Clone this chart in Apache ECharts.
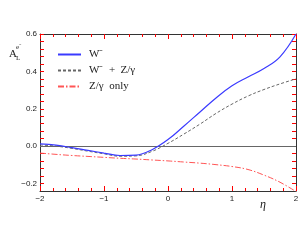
<!DOCTYPE html>
<html><head><meta charset="utf-8">
<script src="https://cdn.jsdelivr.net/npm/echarts@6/dist/echarts.min.js"></script>
<style>html,body{margin:0;padding:0;background:#fff}#c{width:305px;height:240px}</style>
</head><body><div id="c"></div>
<script>
const eta = [-2,-1.75,-1.5,-1.25,-1,-0.75,-0.5,-0.25,0,0.25,0.5,0.75,1,1.25,1.5,1.75,2];
const wMinus  = [0.012,0.005,-0.008,-0.023,-0.037,-0.05,-0.048,-0.019,0.035,0.108,0.183,0.258,0.323,0.37,0.415,0.478,0.6];
const wMinusZ = [0.006,0.0,-0.012,-0.027,-0.041,-0.054,-0.052,-0.028,0.015,0.065,0.118,0.175,0.225,0.268,0.303,0.333,0.36];
const zOnly   = [-0.037,-0.044,-0.05,-0.055,-0.06,-0.065,-0.069,-0.074,-0.079,-0.085,-0.091,-0.099,-0.109,-0.125,-0.155,-0.193,-0.243];
const yLabels = [-0.2,0,0.2,0.4,0.6];
const yTicks = [-0.2,-0.16,-0.12,-0.08,-0.04,0,0.04,0.08,0.12,0.16,0.2,0.24,0.28,0.32,0.36,0.4,0.44,0.48,0.52,0.56,0.6];
const names = ['W\u207B','W\u207B  +  Z/\u03B3','Z/\u03B3  only'];

const pair = (xs, ys) => xs.map((x,i)=>[x,ys[i]]);
const axCol = '#333';
const tkCol = 'red';
const lblStyle = {fontFamily:'Liberation Sans', fontSize:8, color:'#222'};
function xAx(pos, labels){
  return {type:'value', position:pos, min:-2, max:2, interval:1,
    axisLine:{show:true, onZero:false, lineStyle:{color:axCol, width:1}},
    axisTick:{show:true, inside:true, length:5, lineStyle:{color:tkCol, width:1}},
    minorTick:{show:true, splitNumber:5, length:3, lineStyle:{color:tkCol, width:1}},
    axisLabel:{show:labels, margin:4, ...lblStyle, formatter:v=>v<0?'\u2212'+Math.abs(v):String(v)},
    splitLine:{show:false}, minorSplitLine:{show:false}};
}
function yAx(pos, labels){
  return {type:'value', position:pos, min:-0.24, max:0.6,
    axisLine:{show:true, onZero:false, lineStyle:{color:axCol, width:1}},
    axisTick:{show:true, inside:true, length:4, customValues:yTicks, lineStyle:{color:tkCol, width:1}},
    axisLabel:{show:labels, margin:3, customValues:yLabels, ...lblStyle,
      formatter:v=>(v<0?'\u2212':'')+Math.abs(v).toFixed(1)},
    splitLine:{show:false}};
}
const chart = echarts.init(document.getElementById('c'), null, {renderer:'canvas'});
chart.setOption({
  animation:false,
  grid:{left:40, right:9, top:34, bottom:49},
  xAxis:[xAx('bottom', true), xAx('top', false)],
  yAxis:[yAx('left', true), yAx('right', false)],
  legend:{orient:'vertical', left:52, top:44, itemWidth:23, itemHeight:10, itemGap:5,
    itemStyle:{color:'transparent', borderWidth:0, opacity:0},
    textStyle:{fontFamily:'Liberation Serif', fontSize:11, color:'#222', padding:[0,0,0,3]},
    data:names},
  graphic:[
    {type:'text', left:9, top:49, style:{text:'A', font:'11px "Liberation Serif"', fill:'#222'}},
    {type:'text', left:16, top:44, style:{text:'e\u207B', font:'7px "Liberation Serif"', fill:'#222'}},
    {type:'text', left:16, top:55, style:{text:'L', font:'7px "Liberation Serif"', fill:'#222'}},
    {type:'text', left:260, top:199, style:{text:'\u03B7', font:'italic 12px "Liberation Serif"', fill:'#222'}}
  ],
  series:[
    {name:names[0], type:'line', data:pair(eta,wMinus), smooth:0.4, showSymbol:false, symbol:'none',
     lineStyle:{color:'#3a3aff', width:1.2}, itemStyle:{color:'#3a3aff'}, z:5,
     markLine:{silent:true, symbol:'none', label:{show:false}, lineStyle:{color:'#666', width:1, type:'solid'}, data:[{yAxis:0}]}},
    {name:names[1], type:'line', data:pair(eta,wMinusZ), smooth:0.4, showSymbol:false, symbol:'none',
     lineStyle:{color:'#666', width:1, type:[3,2]}, itemStyle:{color:'#666'}, z:4},
    {name:names[2], type:'line', data:pair(eta,zOnly), smooth:0.4, showSymbol:false, symbol:'none',
     lineStyle:{color:'#ff5555', width:1, type:[6,2,1.5,2]}, itemStyle:{color:'#ff5555'}, z:3}
  ]
});
</script></body></html>
